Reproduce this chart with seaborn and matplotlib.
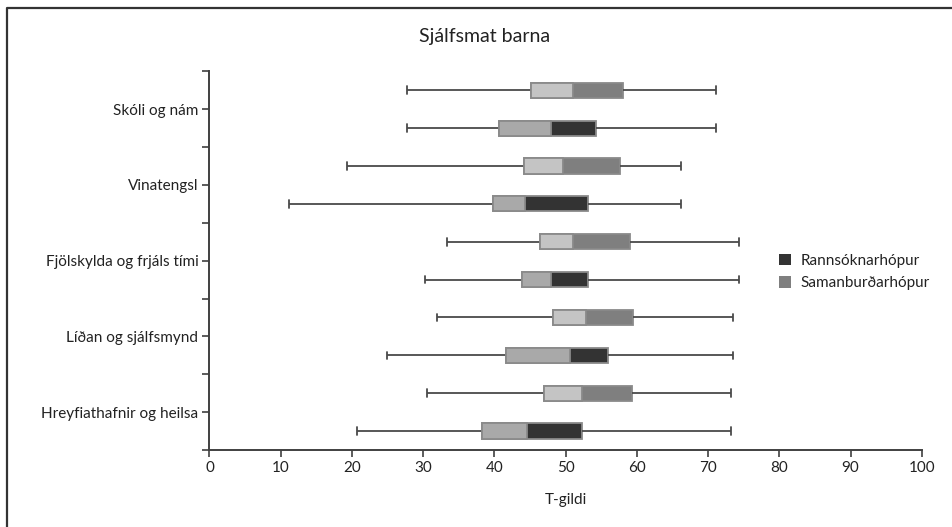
import numpy as np
import pandas as pd
import seaborn as sns
import matplotlib.pyplot as plt
from matplotlib.patches import Patch
from matplotlib.lines import Line2D

# Flokkar (frá toppi til botns)
categories = ['Skóli og nám', 'Vinatengsl', 'Fjölskylda og frjáls tími',
              'Líðan og sjálfsmynd', 'Hreyfiathafnir og heilsa']
groups = ['Samanburðarhópur', 'Rannsóknarhópur']

# Fimm talna samantekt: lægst, Q1, miðgildi, Q3, hæst
samanburdur = [
    [27.7, 45.2, 51.0, 58.1, 71.1],
    [19.3, 44.2, 49.6, 57.7, 66.2],
    [33.3, 46.4, 51.1, 59.0, 74.3],
    [32.0, 48.2, 52.8, 59.4, 73.5],
    [30.5, 46.9, 52.3, 59.3, 73.2],
]
rannsokn = [
    [27.7, 40.6, 47.9, 54.2, 71.1],
    [11.1, 39.8, 44.3, 53.1, 66.2],
    [30.3, 43.9, 47.9, 53.1, 74.3],
    [24.9, 41.6, 50.6, 56.0, 73.5],
    [20.7, 38.3, 44.6, 52.3, 73.2],
]

left_colors = {'Samanburðarhópur': '#c4c4c4', 'Rannsóknarhópur': '#a9a9a9'}
right_colors = {'Samanburðarhópur': '#7f7f7f', 'Rannsóknarhópur': '#333333'}

rows = []
for g, stats in zip(groups, [samanburdur, rannsokn]):
    for cat, vals in zip(categories, stats):
        for v in vals:
            rows.append({'flokkur': cat, 'hopur': g, 'T-gildi': v})
df = pd.DataFrame(rows)

sns.set_style('white')
plt.rcParams['font.family'] = ['Lato', 'DejaVu Sans']

fig = plt.figure(figsize=(9.53, 5.27), dpi=100)
ax = fig.add_axes([0.2198, 0.1461, 0.7474, 0.7186])

edge = '#8a8a8a'
line_c = '#4a4a4a'
sns.boxplot(data=df, x='T-gildi', y='flokkur', hue='hopur', order=categories,
            hue_order=groups, orient='h', whis=(0, 100), width=1.0, gap=0.6,
            palette=right_colors, linecolor=edge, linewidth=1.3, saturation=1,
            legend=False, ax=ax,
            whiskerprops={'color': line_c, 'linewidth': 1.3},
            capprops={'color': line_c, 'linewidth': 1.3},
            medianprops={'visible': False})

# vinstri helmingur kassans (Q1 til miðgildis) í ljósari lit
offsets = {'Samanburðarhópur': -0.25, 'Rannsóknarhópur': 0.25}
for g, stats in zip(groups, [samanburdur, rannsokn]):
    for i, vals in enumerate(stats):
        ax.barh(i + offsets[g], vals[2] - vals[1], left=vals[1], height=0.2,
                color=left_colors[g], edgecolor=edge, linewidth=1.3, zorder=3)

ax.set_xlim(0, 100)
ax.set_xticks(range(0, 101, 10))
ax.set_yticks(range(len(categories)))
ax.set_yticklabels(categories)
ax.set_yticks(np.arange(-0.5, len(categories), 1.0), minor=True)
ax.set_ylim(len(categories) - 0.5, -0.5)

for s in ['top', 'right']:
    ax.spines[s].set_visible(False)
for s in ['left', 'bottom']:
    ax.spines[s].set_color('#404040')
    ax.spines[s].set_linewidth(1.4)
ax.tick_params(axis='both', which='both', direction='out', length=5, width=1.2,
               color='#404040', labelsize=11, labelcolor='#222222', pad=3)
ax.tick_params(axis='y', which='both', left=True)
ax.tick_params(axis='x', bottom=True)

ax.set_ylabel('')
ax.set_xlabel('T-gildi', fontsize=11, color='#222222', labelpad=13)

fig.text(0.508, 0.93, 'Sjálfsmat barna', ha='center', va='center',
         fontsize=14, color='#222222')

handles = [Patch(facecolor=right_colors['Rannsóknarhópur'], edgecolor='none'),
           Patch(facecolor=right_colors['Samanburðarhópur'], edgecolor='none')]
ax.legend(handles, ['Rannsóknarhópur', 'Samanburðarhópur'], loc='center left',
          bbox_to_anchor=(0.78, 0.47), frameon=False, fontsize=11,
          handlelength=0.8, handleheight=0.8, handletextpad=0.6, labelspacing=0.55,
          labelcolor='#222222')

# rammi utan um myndina (efri og vinstri brún)
fig.add_artist(Line2D([7.5 / 953, 7.5 / 953, 1.0], [0.0, 1 - 7.5 / 527, 1 - 7.5 / 527],
                      transform=fig.transFigure, color='#333333', linewidth=1.6))

fig.savefig('out.png', dpi=100)
